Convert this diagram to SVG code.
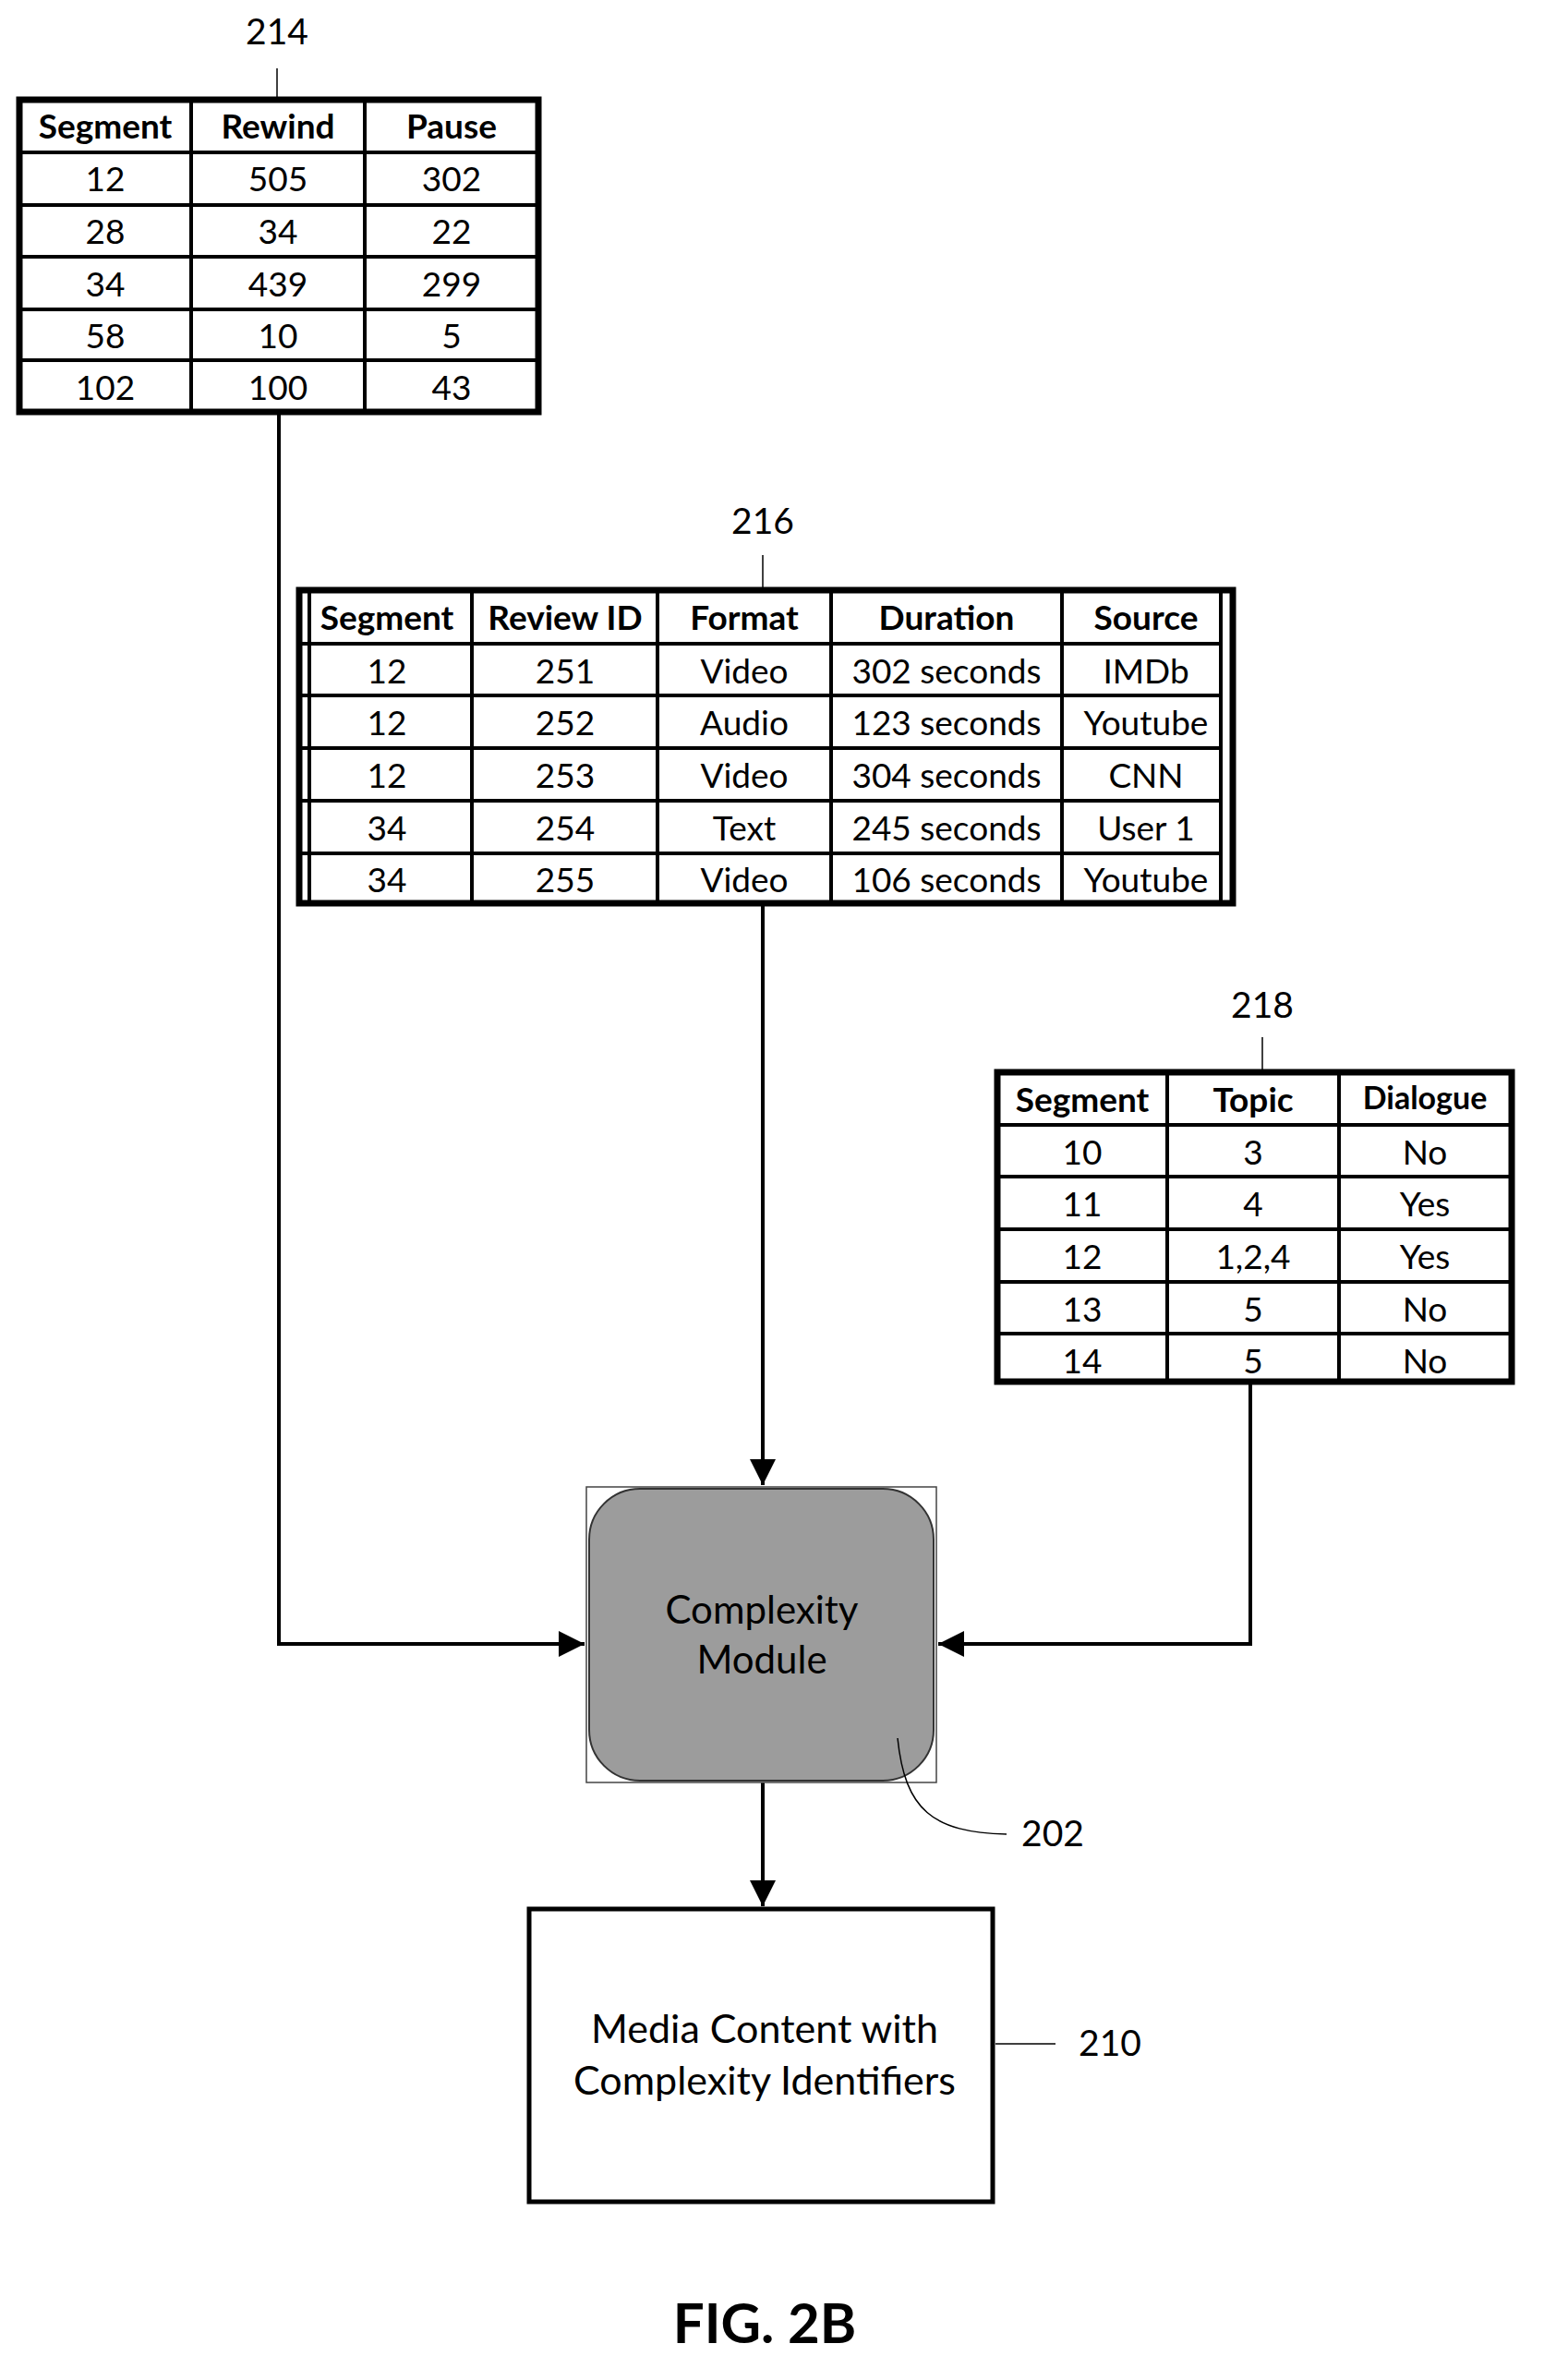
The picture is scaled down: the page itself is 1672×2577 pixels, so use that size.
<svg xmlns="http://www.w3.org/2000/svg" width="1672" height="2577" viewBox="0 0 1672 2577">
<style>
text{font-family:Lato,"Liberation Sans",sans-serif;fill:#000}
.c{font-size:37px;text-anchor:middle}
.h{font-size:37px;font-weight:bold;text-anchor:middle}
.lb{font-size:39px;text-anchor:middle}
.o{fill:#fff;stroke:#000;stroke-width:7}
.g{stroke:#000;stroke-width:4;fill:none}
.t{stroke:#000;stroke-width:1.5;fill:none}
.a{stroke:#000;stroke-width:4;fill:none;marker-end:url(#ah2)}
</style>
<defs>
<marker id="ah2" viewBox="0 0 10 10" refX="10" refY="5" markerWidth="28" markerHeight="28" markerUnits="userSpaceOnUse" orient="auto"><path d="M0,0L10,5L0,10z" fill="#000"/></marker></defs>
<g id="connectors">
<path class="a" d="M302,446V1780H633"/>
<path class="a" d="M826,980V1608"/>
<path class="a" d="M1354,1497V1780H1016"/>
<path class="a" d="M826,1930V2064"/>
</g>
<g id="t214">
<text class="lb" x="300" y="48">214</text><path class="t" d="M300,74V108"/>
<rect class="o" x="21" y="108" width="562" height="338"/>
<path class="g" d="M207,108V446M395,108V446M21,165H583M21,222H583M21,278H583M21,335H583M21,390H583"/>
<g class="h"><text x="114" y="150">Segment</text><text x="301" y="150">Rewind</text><text x="489" y="150">Pause</text></g>
<g class="c"><text x="114" y="207">12</text><text x="301" y="207">505</text><text x="489" y="207">302</text>
<text x="114" y="264">28</text><text x="301" y="264">34</text><text x="489" y="264">22</text>
<text x="114" y="321">34</text><text x="301" y="321">439</text><text x="489" y="321">299</text>
<text x="114" y="377">58</text><text x="301" y="377">10</text><text x="489" y="377">5</text>
<text x="114" y="433">102</text><text x="301" y="433">100</text><text x="489" y="433">43</text></g>
</g>
<g id="t216">
<text class="lb" x="826" y="578">216</text><path class="t" d="M826,601V637"/>
<rect class="o" x="324" y="639" width="1011" height="339"/>
<path class="g" d="M1322,639V978M335,639V978"/>
<path class="g" d="M511,639V978M712,639V978M900,639V978M1150,639V978M324,697H1322M324,753H1322M324,810H1322M324,867H1322M324,924H1322"/>
<g class="h"><text x="419" y="682">Segment</text><text x="612" y="682">Review ID</text><text x="806" y="682">Format</text><text x="1025" y="682">Duration</text><text x="1241" y="682">Source</text></g>
<g class="c"><text x="419" y="740">12</text><text x="612" y="740">251</text><text x="806" y="740">Video</text><text x="1025" y="740">302 seconds</text><text x="1241" y="740">IMDb</text>
<text x="419" y="796">12</text><text x="612" y="796">252</text><text x="806" y="796">Audio</text><text x="1025" y="796">123 seconds</text><text x="1241" y="796">Youtube</text>
<text x="419" y="853">12</text><text x="612" y="853">253</text><text x="806" y="853">Video</text><text x="1025" y="853">304 seconds</text><text x="1241" y="853">CNN</text>
<text x="419" y="910">34</text><text x="612" y="910">254</text><text x="806" y="910">Text</text><text x="1025" y="910">245 seconds</text><text x="1241" y="910">User 1</text>
<text x="419" y="966">34</text><text x="612" y="966">255</text><text x="806" y="966">Video</text><text x="1025" y="966">106 seconds</text><text x="1241" y="966">Youtube</text></g>
</g>
<g id="t218">
<text class="lb" x="1367" y="1102">218</text><path class="t" d="M1367,1123V1159"/>
<rect class="o" x="1080" y="1161" width="557" height="335"/>
<path class="g" d="M1264,1161V1496M1450,1161V1496M1080,1218H1637M1080,1274H1637M1080,1331H1637M1080,1388H1637M1080,1444H1637"/>
<g class="h"><text x="1172" y="1204">Segment</text><text x="1357" y="1204">Topic</text><text x="1543" y="1201" style="font-size:34px">Dialogue</text></g>
<g class="c"><text x="1172" y="1261">10</text><text x="1357" y="1261">3</text><text x="1543" y="1261">No</text>
<text x="1172" y="1317">11</text><text x="1357" y="1317">4</text><text x="1543" y="1317">Yes</text>
<text x="1172" y="1374">12</text><text x="1357" y="1374">1,2,4</text><text x="1543" y="1374">Yes</text>
<text x="1172" y="1431">13</text><text x="1357" y="1431">5</text><text x="1543" y="1431">No</text>
<text x="1172" y="1487">14</text><text x="1357" y="1487">5</text><text x="1543" y="1487">No</text></g>
</g>
<g id="n202">
<rect x="635" y="1610" width="379" height="320" fill="none" stroke="#444" stroke-width="1.5"/>
<rect x="638" y="1612" width="373" height="316" rx="55" fill="#9c9c9c" stroke="#333" stroke-width="2"/>
<text class="lb" x="825" y="1758" style="font-size:42px">Complexity</text>
<text class="lb" x="825" y="1812" style="font-size:42px">Module</text>
<path class="t" d="M972,1882C980,1960 1010,1984 1090,1986"/>
<text class="lb" x="1140" y="1999">202</text>
</g>
<g id="n210">
<rect x="573" y="2067" width="502" height="317" fill="#fff" stroke="#000" stroke-width="5"/>
<text class="lb" x="828" y="2212" style="font-size:43px">Media Content with</text>
<text class="lb" x="828" y="2268" style="font-size:43px">Complexity Identifiers</text>
<path class="t" d="M1078,2213H1143"/>
<text class="lb" x="1202" y="2226">210</text>
</g>
<text x="828" y="2537" style="font-size:60px;font-weight:bold;text-anchor:middle">FIG. 2B</text>
</svg>
